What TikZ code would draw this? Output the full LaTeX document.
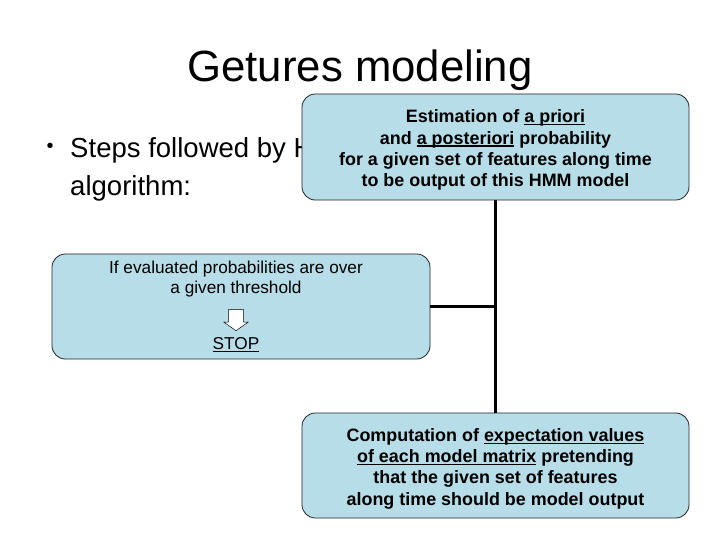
\documentclass[tikz,border=0pt]{standalone}
\usepackage{fontspec}
\setmainfont{Liberation Sans}
\usetikzlibrary{positioning}
\usetikzlibrary{shapes.arrows}
\definecolor{boxblue}{RGB}{183,221,232}
\newcommand\ulword[1]{\setbox0\hbox{#1}\rlap{\rule[-2.3pt]{\wd0}{1.1pt}}\box0\relax}

\begin{document}
\begin{tikzpicture}[
    x=0.03cm, y=-0.03cm,
    stepbox/.style={rectangle, rounded corners=0.4cm, draw=black!85, line width=0.7pt, fill=boxblue, align=center, inner sep=0pt},
    boldtext/.style={font=\fontsize{15.3}{18.3}\selectfont\bfseries},
    plaintext/.style={font=\fontsize{14.7}{17}\selectfont},
    link/.style={line width=2.6pt, black}
]
    \useasboundingbox (0,0) rectangle (720,540);

    % --- Title and bullet ---
    \node[font=\fontsize{37.3}{44}\selectfont] (title) at (360,70) {Getures modeling};
    \node[font=\fontsize{17}{20}\selectfont] (bullet) at (50,148) {•};
    \node[font=\fontsize{23.5}{32.3}\selectfont, anchor=north west, align=left, inner sep=0pt] (steps) at (70,137) {Steps followed by HMM\\algorithm:};

    % --- Boxes ---
    \node[stepbox, boldtext, minimum width=11.61cm, minimum height=3.18cm] (prob) at (495.5,147) {\rule{0pt}{16.5pt}Estimation of \ulword{a priori}\\and \ulword{a posteriori} probability\\for a given set of features along time\\to be output of this HMM model};
    \node[stepbox, minimum width=11.34cm, minimum height=3.15cm] (check) at (241,306.5) {};
    \node[plaintext, align=center] (cond) at (236,279) {If evaluated probabilities are over\\a given threshold};
    \node[single arrow, draw, fill=white, thin, shape border rotate=270, minimum height=0.63cm, minimum width=0.74cm, inner sep=0.22cm, single arrow head extend=0.14cm, single arrow tip angle=110] (down) at (236,317.5) {};
    \node[plaintext] (stop) at (236,345) {\ulword{STOP}};
    \node[stepbox, boldtext, minimum width=11.61cm, minimum height=3.15cm] (expect) at (495.5,465.5) {\rule{0pt}{16.5pt}Computation of \ulword{expectation values}\\\ulword{of each model matrix} pretending\\that the given set of features\\along time should be model output};

    % --- Links ---
    \draw[link] (prob.south) -- (expect.north);
    \draw[link] (check.east) -- (check.east -| prob.south);
\end{tikzpicture}
\end{document}
